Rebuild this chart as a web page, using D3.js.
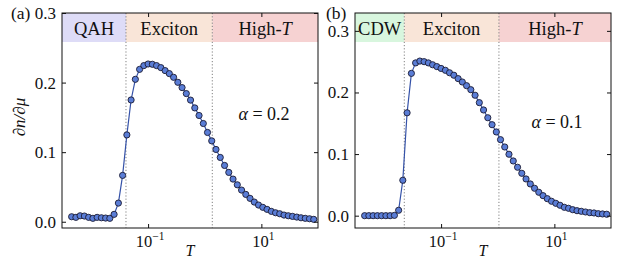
<!DOCTYPE html>
<html>
<head>
<meta charset="utf-8">
<script src="https://cdn.jsdelivr.net/npm/d3@7"></script>
<style>
  body { margin: 0; background: #fff; }
  svg text { font-family: "Liberation Serif", "DejaVu Serif", serif; fill: #111; }
</style>
</head>
<body>
<svg id="fig" width="623" height="260"></svg>
<script>
// temperature grid (same for both panels)
const T = [0.00447, 0.00531, 0.00631, 0.00750, 0.00891, 0.0106, 0.0126, 0.0150, 0.0178, 0.0211,
  0.0251, 0.0299, 0.0355, 0.0422, 0.0501, 0.0596, 0.0708, 0.0841, 0.1, 0.119,
  0.141, 0.168, 0.200, 0.237, 0.282, 0.335, 0.398, 0.473, 0.562, 0.668,
  0.794, 0.944, 1.12, 1.33, 1.58, 1.88, 2.24, 2.66, 3.16, 3.76,
  4.47, 5.31, 6.31, 7.50, 8.91, 10.6, 12.6, 15.0, 17.8, 21.1,
  25.1, 29.9, 35.5, 42.2, 50.1, 59.6, 70.8, 84.1];

// dn/dmu, alpha = 0.2
const dndmuA = [0.0072, 0.0063, 0.0086, 0.0082, 0.0063, 0.0049, 0.0063, 0.0057, 0.0053, 0.0049,
  0.0106, 0.0268, 0.0666, 0.1248, 0.175, 0.2047, 0.219, 0.2244, 0.2267, 0.2263,
  0.2244, 0.2215, 0.2172, 0.2129, 0.2076, 0.2004, 0.1928, 0.1842, 0.1748, 0.1636,
  0.1527, 0.1412, 0.1283, 0.1162, 0.1039, 0.0924, 0.0809, 0.0709, 0.0613, 0.0531,
  0.0455, 0.0393, 0.0336, 0.0283, 0.024, 0.0207, 0.0178, 0.0149, 0.0129, 0.0115,
  0.0096, 0.0086, 0.0077, 0.0067, 0.0057, 0.0049, 0.0043, 0.0034];

// dn/dmu, alpha = 0.1
const dndmuB = [0, 0, 0, 0, 0, 0, 0, 0.0005, 0.0088, 0.0575,
  0.167, 0.231, 0.248, 0.251, 0.250, 0.248, 0.245, 0.242, 0.239, 0.236,
  0.232, 0.228, 0.2225, 0.217, 0.211, 0.2045, 0.1955, 0.1835, 0.1716, 0.159,
  0.1477, 0.1359, 0.1234, 0.1115, 0.0997, 0.0888, 0.0786, 0.0688, 0.0596, 0.0515,
  0.0445, 0.038, 0.0325, 0.0276, 0.0234, 0.0201, 0.0169, 0.0136, 0.012, 0.0097,
  0.0081, 0.0071, 0.006, 0.0049, 0.0044, 0.0032, 0.0028, 0.0023];

const boundsA = [0.0407, 1.36];
const boundsB = [0.0224, 1.05];
const phasesA = ["QAH", "Exciton", "High-T"];
const phasesB = ["CDW", "Exciton", "High-T"];
const phaseColorsA = ["#dedcf7", "#f9e5d8", "#f6d2d2"];
const phaseColorsB = ["#d8f6de", "#f9e5d8", "#f6d2d2"];
const yTicks = [0, 0.1, 0.2, 0.3];
const xTicks = [0.1, 10];
const xTickExp = ["\u22121", "1"];

const svg = d3.select("#fig");

function panel(opt) {
  const top = 13, bottom = 228;
  const x = d3.scaleLog().domain([Math.pow(10, -2.52), 100]).range([opt.left, opt.right]);
  const y = d3.scaleLinear().domain(opt.ylim).range([bottom, top]);
  const g = svg.append("g");
  const clipId = "clip" + opt.tag;

  g.append("clipPath").attr("id", clipId)
    .append("rect").attr("x", opt.left).attr("y", top)
    .attr("width", opt.right - opt.left).attr("height", bottom - top);

  // phase bands along the top
  const edges = [x.domain()[0]].concat(opt.bounds, [x.domain()[1]]);
  const bandH = (bottom - top) * 0.135;
  opt.phases.forEach((p, i) => {
    const x0 = x(edges[i]), x1 = x(edges[i + 1]);
    g.append("rect").attr("x", x0).attr("y", top).attr("width", x1 - x0).attr("height", bandH)
      .attr("fill", opt.colors[i]);
    const t = g.append("text").attr("x", (x0 + x1) / 2).attr("y", top + 21.5)
      .attr("text-anchor", "middle").style("font-size", "18.5px");
    if (p === "High-T") {
      t.append("tspan").text("High-");
      t.append("tspan").style("font-style", "italic").text("T");
    } else t.text(p);
  });

  // dotted phase boundaries
  opt.bounds.forEach(b => {
    g.append("line").attr("x1", x(b)).attr("x2", x(b)).attr("y1", top).attr("y2", bottom)
      .attr("stroke", "#808080").attr("stroke-width", 1).attr("stroke-dasharray", "1.2,2");
  });

  const pts = T.map((t, i) => [t, opt.vals[i]]);
  const body = g.append("g").attr("clip-path", `url(#${clipId})`);
  body.append("path").datum(pts)
    .attr("d", d3.line().x(d => x(d[0])).y(d => y(d[1])))
    .attr("fill", "none").attr("stroke", "#3552a8").attr("stroke-width", 1.2);
  body.selectAll("circle").data(pts).enter().append("circle")
    .attr("cx", d => x(d[0])).attr("cy", d => y(d[1])).attr("r", 3.1)
    .attr("fill", "#5a7dd6").attr("stroke", "#1b1b33").attr("stroke-width", 0.9);

  // axes, ticks pointing inward on all four sides
  const yt = yTicks.filter(v => v <= opt.ylim[1] + 1e-9);
  const axL = g.append("g").attr("transform", `translate(${opt.left},0)`)
    .call(d3.axisLeft(y).tickValues(yt).tickSize(-4).tickPadding(6).tickFormat(d3.format(".1f")));
  const axR = g.append("g").attr("transform", `translate(${opt.right},0)`)
    .call(d3.axisRight(y).tickValues(yt).tickSize(-4).tickFormat(""));
  const axB = g.append("g").attr("transform", `translate(0,${bottom})`)
    .call(d3.axisBottom(x).tickValues(xTicks).tickSize(-4).tickFormat(""));
  const axT = g.append("g").attr("transform", `translate(0,${top})`)
    .call(d3.axisTop(x).tickValues(xTicks).tickSize(-4).tickFormat(""));
  [axL, axR, axB, axT].forEach(a => {
    a.select(".domain").remove();
    a.selectAll("line").attr("stroke", "#111").attr("stroke-width", 1);
  });
  axL.selectAll("text").style("font-size", "17px").attr("fill", "#111")
    .style("font-family", "'Liberation Serif', serif");

  xTicks.forEach((v, i) => {
    const t = g.append("text").attr("x", x(v) + 2).attr("y", 247)
      .attr("text-anchor", "middle").style("font-size", "16.5px");
    t.append("tspan").text("10");
    t.append("tspan").attr("dy", -7).style("font-size", "11.5px").text(xTickExp[i]);
  });

  g.append("rect").attr("x", opt.left).attr("y", top)
    .attr("width", opt.right - opt.left).attr("height", bottom - top)
    .attr("fill", "none").attr("stroke", "#111").attr("stroke-width", 1);

  g.append("text").attr("x", (opt.left + opt.right) / 2).attr("y", 256)
    .attr("text-anchor", "middle").style("font-size", "16px").style("font-style", "italic").text("T");

  const a = g.append("text").attr("x", opt.alphaPos[0]).attr("y", opt.alphaPos[1])
    .attr("text-anchor", "middle").style("font-size", "18px");
  a.append("tspan").style("font-style", "italic").text("\u03b1");
  a.append("tspan").text(" = " + opt.alpha);

  g.append("text").attr("x", opt.labelPos[0]).attr("y", opt.labelPos[1])
    .style("font-size", "17.5px").text(opt.label);
}

panel({ tag: "a", left: 62, right: 318, ylim: [-0.009, 0.3], vals: dndmuA, bounds: boundsA,
  phases: phasesA, colors: phaseColorsA, alpha: "0.2", alphaPos: [264, 120], label: "(a)", labelPos: [11, 19] });
panel({ tag: "b", left: 355, right: 611, ylim: [-0.02, 0.329], vals: dndmuB, bounds: boundsB,
  phases: phasesB, colors: phaseColorsB, alpha: "0.1", alphaPos: [557, 128], label: "(b)", labelPos: [326, 19] });

// shared y label
svg.append("text").attr("transform", "translate(25,117) rotate(-90)")
  .attr("text-anchor", "middle").style("font-size", "17px").style("font-style", "italic")
  .text("\u2202n/\u2202\u03bc");
</script>
</body>
</html>
